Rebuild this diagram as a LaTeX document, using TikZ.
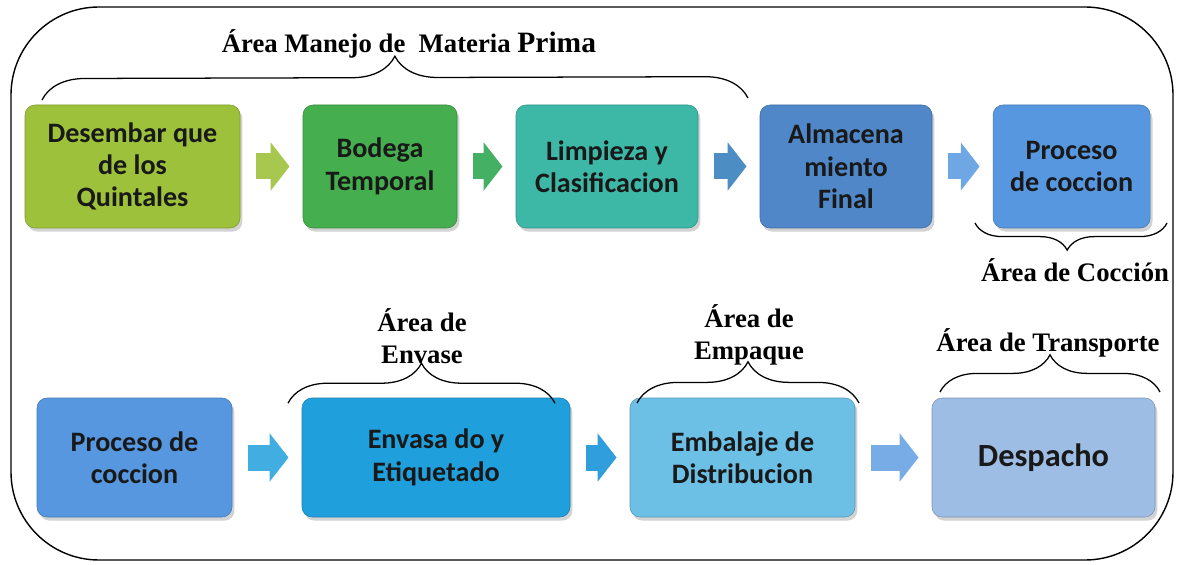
\documentclass[tikz,border=0pt]{standalone}
\usepackage{fontspec}
\setmainfont{Liberation Serif}
\newfontfamily\calibri{Carlito}
\usetikzlibrary{arrows.meta,shadows,decorations.pathreplacing}

\definecolor{verdelima}{HTML}{9DC13A}
\definecolor{verde}{HTML}{45AE4E}
\definecolor{turquesa}{HTML}{3DB7A6}
\definecolor{azulacero}{HTML}{4F87C8}
\definecolor{azulmedio}{HTML}{5697E0}
\definecolor{azulcielo}{HTML}{1F9FDC}
\definecolor{celeste}{HTML}{6CC0E6}
\definecolor{azulpalido}{HTML}{9EBDE4}

\begin{document}
\begin{tikzpicture}[
    etapa/.style={rounded corners=0.25cm, fill=#1, draw=#1!80!black, line width=0.4pt,
        text=black!90, align=center, inner sep=0pt,
        font=\calibri\bfseries\fontsize{20}{23}\selectfont,
        drop shadow={opacity=0.35, shadow xshift=0.06cm, shadow yshift=-0.09cm}},
    area/.style={font=\bfseries\fontsize{19}{22.8}\selectfont, align=center},
    llave/.style={decorate, decoration={brace, amplitude=#1}, line width=0.9pt},
    flecha/.style={draw=#1, line width=0.65cm, -{Triangle[length=0.47cm, width=1.18cm]},
        shorten <=0.4cm, shorten >=0.33cm}
]
        \useasboundingbox (0,0) rectangle (29.45,-14.125);
        \draw[line width=1pt, rounded corners=2.2cm] (0.275,-0.175) rectangle (29.325,-14.0);

        % fila superior
        \node[etapa=verdelima, minimum width=5.375cm, minimum height=3.075cm] (b1) at (3.3125,-4.1625) {Desembar que\\de los\\Quintales};
        \node[etapa=verde, minimum width=3.85cm, minimum height=3.075cm] (b2) at (9.5,-4.1625) {Bodega\\Temporal};
        \node[etapa=turquesa, minimum width=4.55cm, minimum height=3.075cm] (b3) at (15.175,-4.1625) {Limpieza y\\Clasificacion};
        \node[etapa=azulacero, minimum width=4.3cm, minimum height=3.075cm] (b4) at (21.15,-4.1625) {Almacena\\miento\\Final};
        \node[etapa=azulmedio, minimum width=3.925cm, minimum height=3.075cm] (b5) at (26.79,-4.1625) {Proceso\\de coccion};

        % fila inferior
        \node[etapa=azulmedio, minimum width=4.875cm, minimum height=2.975cm] (b6) at (3.3625,-11.4375) {Proceso de\\coccion};
        \node[etapa=azulcielo, minimum width=6.7cm, minimum height=2.975cm] (b7) at (10.9,-11.4375) {Envasa do y\\Etiquetado};
        \node[etapa=celeste, minimum width=5.625cm, minimum height=2.975cm] (b8) at (18.5625,-11.4375) {Embalaje de\\Distribucion};
        \node[etapa=azulpalido, minimum width=5.575cm, minimum height=2.975cm, font=\calibri\bfseries\fontsize{23}{26}\selectfont] (b9) at (26.0875,-11.4375) {Despacho};

        \draw[flecha=verdelima!90!white] (b1) -- (b2);
        \draw[flecha=verde!75!turquesa] (b2) -- (b3);
        \draw[flecha=azulacero!85!turquesa] (b3) -- (b4);
        \draw[flecha=azulmedio!85!white] (b4) -- (b5);
        \draw[flecha=azulcielo!85!white] (b6) -- (b7);
        \draw[flecha=azulcielo!70!azulmedio] (b7) -- (b8);
        \draw[flecha=azulmedio!80!white] (b8) -- (b9);

        % llaves
        \draw[llave=1.07cm] (1.05,-2.5) -- (18.7,-2.45);
        \draw[llave=0.68cm, decoration={aspect=0.52}] (29.175,-5.575) -- (24.375,-5.575);
        \draw[llave=1.0cm] (7.2,-10.08) -- (13.875,-10.08);
        \draw[llave=1.03cm] (15.925,-10.075) -- (21.475,-10.075);
        \draw[llave=0.93cm] (23.5,-9.8) -- (29.0,-9.8);

        \node[area] (tmp) at (10.225,-1.1) {Área Manejo de \ Materia {\fontsize{21}{24}\selectfont Prima}};
        \node[area] (tcoc) at (26.875,-6.75) {Área de Cocción};
        \node[area] (tenv) at (10.55,-8.4) {Área de\\Envase};
        \node[area] (temp) at (18.725,-8.375) {Área de\\Empaque};
        \node[area] (ttra) at (26.2,-8.575) {Área de Transporte};
\end{tikzpicture}
\end{document}
